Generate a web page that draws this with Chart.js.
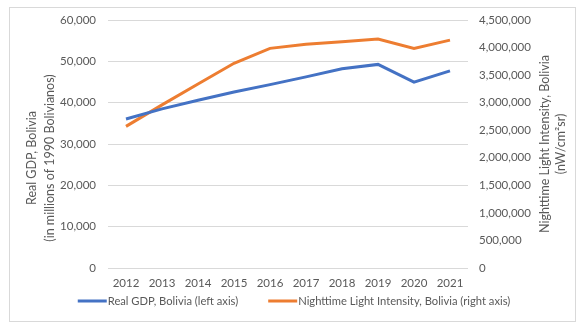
<!DOCTYPE html>
<html>
<head>
<meta charset="utf-8">
<script src="https://cdn.jsdelivr.net/npm/chart.js@4.4.1/dist/chart.umd.min.js"></script>
<style>
  html, body { margin: 0; padding: 0; background: #fff; }
  #wrap { width: 583px; height: 328px; }
</style>
</head>
<body>
<div id="wrap"><canvas id="grafico"></canvas></div>
<script>
// dados
const anos = ['2012', '2013', '2014', '2015', '2016', '2017', '2018', '2019', '2020', '2021'];
const pibReal = [36040, 38490, 40590, 42560, 44370, 46240, 48190, 49260, 44950, 47700];
const luzNoturna = [2570000, 2960000, 3340000, 3715000, 3985000, 4060000, 4105000, 4155000, 3985000, 4135000];
const ticksEsquerda = [0, 10000, 20000, 30000, 40000, 50000, 60000];
const ticksDireita = [0, 500000, 1000000, 1500000, 2000000, 2500000, 3000000, 3500000, 4000000, 4500000];

const tituloEsquerda = ['Real GDP, Bolivia', '(in millions of 1990 Bolivianos)'];
const tituloDireita = ['Nighttime Light Intensity, Bolivia', '(nW/cm²sr)'];

const azul = '#4472C4';
const laranja = '#ED7D31';
const cinzaTexto = '#595959';
const cinzaGrade = '#D9D9D9';
const fonte = 'Lato';

function formatar(v) {
    return Number(v).toLocaleString('en-US');
}

function textoVertical(ctx, linhas, x, y, passo) {
    linhas.forEach((linha, i) => {
        ctx.save();
        ctx.translate(x + i * passo, y);
        ctx.rotate(-Math.PI / 2);
        ctx.fillText(linha, 0, 0);
        ctx.restore();
    });
}

// fundo, borda, títulos dos eixos e legenda
const moldura = {
    id: 'moldura',
    beforeDraw(chart) {
        const c = chart.ctx;
        c.save();
        c.fillStyle = '#fff';
        c.fillRect(0, 0, chart.width, chart.height);
        c.strokeStyle = cinzaGrade;
        c.lineWidth = 1;
        c.strokeRect(9.5, 7.5, 566, 314);
        c.restore();
    },
    afterDraw(chart) {
        const c = chart.ctx;
        c.save();
        c.fillStyle = cinzaTexto;
        c.font = `12.5px ${fonte}`;
        c.textAlign = 'center';
        c.textBaseline = 'middle';
        textoVertical(c, tituloEsquerda, 32, 158, 18);
        textoVertical(c, tituloDireita, 545, 144, 16);

        // legenda
        c.font = `11.2px ${fonte}`;
        c.textAlign = 'left';
        const itens = chart.data.datasets.map(ds => ({
            texto: ds.label,
            cor: ds.borderColor,
            largura: 30 + c.measureText(ds.label).width
        }));
        const espaco = 30;
        const total = itens.reduce((s, it) => s + it.largura, 0) + espaco * (itens.length - 1);
        let x = 294 - total / 2;
        const y = 301;
        itens.forEach(it => {
            c.fillStyle = it.cor;
            c.fillRect(x, y - 1.5, 29, 3);
            c.fillStyle = cinzaTexto;
            c.fillText(it.texto, x + 30, y);
            x += it.largura + espaco;
        });
        c.restore();
    }
};

const ctx = document.getElementById('grafico').getContext('2d');
const grafico = new Chart(ctx, {
    type: 'line',
    data: {
        labels: anos,
        datasets: [{
            label: 'Real GDP, Bolivia (left axis)',
            data: pibReal,
            borderColor: azul,
            backgroundColor: azul,
            borderWidth: 3,
            pointRadius: 0,
            tension: 0,
            fill: false,
            yAxisID: 'yPib'
        }, {
            label: 'Nighttime Light Intensity, Bolivia (right axis)',
            data: luzNoturna,
            borderColor: laranja,
            backgroundColor: laranja,
            borderWidth: 3,
            pointRadius: 0,
            tension: 0,
            fill: false,
            yAxisID: 'yLuz'
        }]
    },
    options: {
        responsive: true,
        maintainAspectRatio: false,
        animation: false,
        layout: { padding: { top: 20, bottom: 0, left: 0, right: 0 } },
        plugins: {
            legend: { display: false },
            tooltip: { enabled: false }
        },
        scales: {
            x: {
                offset: true,
                grid: { display: false, drawTicks: false },
                border: { display: false },
                ticks: {
                    color: cinzaTexto,
                    font: { family: fonte, size: 11.5 },
                    padding: 8,
                    maxRotation: 0
                },
                afterFit(scale) { scale.height = 60; }
            },
            yPib: {
                position: 'left',
                min: ticksEsquerda[0],
                max: ticksEsquerda[ticksEsquerda.length - 1],
                afterBuildTicks(scale) { scale.ticks = ticksEsquerda.map(v => ({ value: v })); },
                grid: { color: cinzaGrade, drawTicks: false, lineWidth: 1 },
                border: { display: false },
                ticks: {
                    color: cinzaTexto,
                    font: { family: fonte, size: 11.5 },
                    padding: 12,
                    callback: formatar
                },
                afterFit(scale) { scale.width = 108; }
            },
            yLuz: {
                position: 'right',
                min: ticksDireita[0],
                max: ticksDireita[ticksDireita.length - 1],
                afterBuildTicks(scale) { scale.ticks = ticksDireita.map(v => ({ value: v })); },
                grid: { display: false, drawTicks: false },
                border: { display: false },
                ticks: {
                    color: cinzaTexto,
                    font: { family: fonte, size: 11.5 },
                    padding: 11,
                    callback: formatar
                },
                afterFit(scale) { scale.width = 115; }
            }
        }
    },
    plugins: [moldura]
});
</script>
</body>
</html>
